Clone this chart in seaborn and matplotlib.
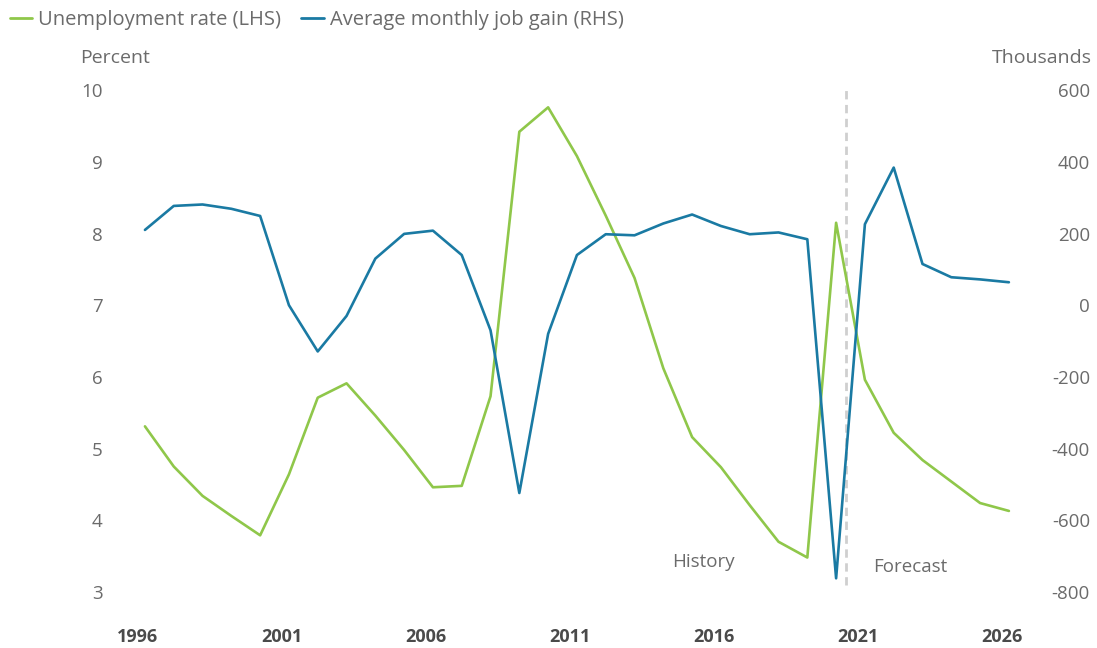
import matplotlib
matplotlib.use("Agg")
import matplotlib.pyplot as plt
from matplotlib.lines import Line2D

import pandas as pd
import seaborn as sns

# Chart data
years = list(range(1996, 2027))
unemployment_rate = [5.31, 4.75, 4.34, 4.06, 3.79, 4.64, 5.71, 5.91, 5.46, 4.98,
                     4.46, 4.48, 5.73, 9.42, 9.76, 9.08, 8.25, 7.38, 6.12, 5.16,
                     4.74, 4.21, 3.70, 3.48, 8.15, 5.96, 5.22, 4.84, 4.54, 4.24, 4.13]
job_gain = [210, 277, 281, 269, 249, 0, -129, -30, 130, 199,
            208, 140, -70, -524, -80, 140, 198, 195, 228, 253,
            221, 198, 203, 184, -762, 226, 384, 115, 78, 72, 64]
tick_years = [1996, 2001, 2006, 2011, 2016, 2021, 2026]
left_ticks = [3, 4, 5, 6, 7, 8, 9, 10]
right_ticks = [-800, -600, -400, -200, 0, 200, 400, 600]
forecast_start = 2020.36

GREEN = "#8fc74a"
BLUE = "#1a7aa3"
GREY = "#6b6b6b"

sns.set_theme(style="white")
plt.rcParams["font.family"] = ["Open Sans", "DejaVu Sans"]

df = pd.DataFrame({"year": years, "rate": unemployment_rate, "gain": job_gain})

fig = plt.figure(figsize=(10.97, 6.48), dpi=100)
ax = fig.add_axes([115 / 1097, 0.0644, 925 / 1097, 0.8186])
ax2 = ax.twinx()

sns.lineplot(data=df, x="year", y="rate", ax=ax, color=GREEN, linewidth=1.9)
sns.lineplot(data=df, x="year", y="gain", ax=ax2, color=BLUE, linewidth=1.9)

ax.set_xlim(1994.96, 2027.08)
ax.set_ylim(2.8, 10.2)
ax2.set_ylim(-840, 640)

# history / forecast divider
ax.axvline(forecast_start, ymin=0.04, ymax=0.977, color="#cfcfcf",
           linestyle=(0, (3, 2)), linewidth=2, zorder=0)
ax.text(2015.4, 3.42, "History", ha="center", va="center", fontsize=13.5, color=GREY)
ax.text(2022.56, 3.35, "Forecast", ha="center", va="center", fontsize=13.5, color=GREY)

ax.set_xticks([y - 0.25 for y in tick_years], labels=[str(y) for y in tick_years])
ax.set_yticks(left_ticks, labels=[str(v) for v in left_ticks])
ax2.set_yticks(right_ticks, labels=[str(v) for v in right_ticks])

ax.tick_params(axis="x", length=0, pad=16, labelsize=13, labelcolor="#4a4a4a")
for lab in ax.get_xticklabels():
    lab.set_fontweight("bold")
ax.tick_params(axis="y", length=0, pad=9, labelsize=13.5, labelcolor=GREY)
ax2.tick_params(axis="y", length=0, pad=36, labelsize=13.5, labelcolor=GREY)
for lab in ax2.get_yticklabels():
    lab.set_ha("right")

for a in (ax, ax2):
    a.set_xlabel("")
    a.set_ylabel("")
    for s in a.spines.values():
        s.set_visible(False)
    a.grid(False)

fig.text(80 / 1097, 1 - 58 / 648, "Percent", ha="left", va="center", fontsize=14, color=GREY)
fig.text(1092 / 1097, 1 - 58 / 648, "Thousands", ha="right", va="center", fontsize=14, color=GREY)

handles = [Line2D([0], [0], color=GREEN, linewidth=2),
           Line2D([0], [0], color=BLUE, linewidth=2)]
fig.legend(handles, ["Unemployment rate (LHS)", "Average monthly job gain (RHS)"],
           loc="upper left", bbox_to_anchor=(0.0, 1.0), ncol=2, frameon=False,
           fontsize=14.5, handlelength=1.1, handletextpad=0.3, columnspacing=1.0,
           labelcolor=GREY, borderaxespad=0.1)

plt.savefig("out.png", dpi=100)
plt.close()
